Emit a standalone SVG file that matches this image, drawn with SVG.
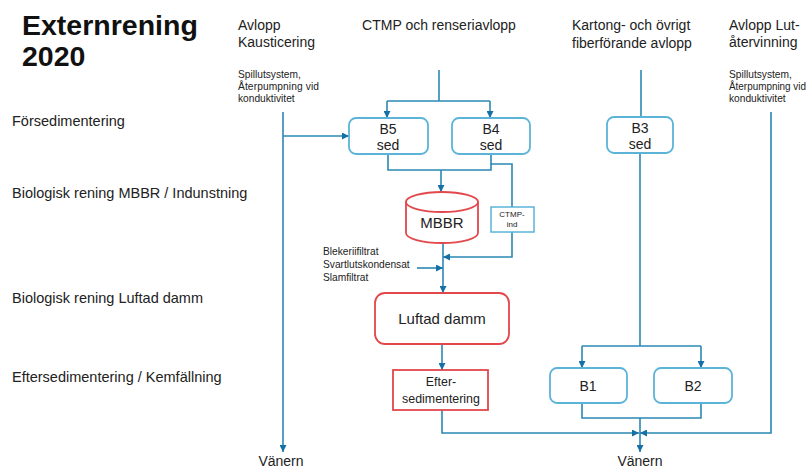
<svg xmlns="http://www.w3.org/2000/svg" width="808" height="469" viewBox="0 0 808 469">
  <style>
    text { font-family: "Liberation Sans", Arial, sans-serif; fill: #222; }
    .title { font-size: 28.5px; font-weight: bold; fill: #111; }
    .head { font-size: 14px; }
    .stage { font-size: 14.5px; }
    .note { font-size: 10.2px; }
    .box { font-size: 14px; text-anchor: middle; }
    .lbl { text-anchor: middle; }
    .flow { fill: none; stroke: #2a88b4; stroke-width: 1.6; }
    .blue { fill: #fff; stroke: #5bb4d8; stroke-width: 1.8; }
    .red { fill: #fff; stroke: #e2474c; stroke-width: 1.8; }
  </style>
  <defs>
    <marker id="arr" viewBox="0 0 10 10" refX="10" refY="5" markerWidth="7" markerHeight="7" orient="auto" markerUnits="userSpaceOnUse">
      <path d="M0,0 L10,5 L0,10 z" fill="#1570a6"/>
    </marker>
  </defs>
  <rect width="808" height="469" fill="#fff"/>

  <!-- headings -->
  <g id="title">
    <text class="title" x="22" y="35">Externrening</text>
    <text class="title" x="22" y="66">2020</text>
  </g>
  <g id="stages">
    <text class="stage" x="12" y="126">Försedimentering</text>
    <text class="stage" x="12" y="198">Biologisk rening MBBR / Indunstning</text>
    <text class="stage" x="12" y="303">Biologisk rening Luftad damm</text>
    <text class="stage" x="12" y="382">Eftersedimentering / Kemfällning</text>
  </g>
  <g id="sources">
    <text class="head" x="238" y="30">Avlopp</text>
    <text class="head" x="238" y="47">Kausticering</text>
    <text class="note" x="238" y="78">Spillutsystem,</text>
    <text class="note" x="238" y="90" textLength="81" lengthAdjust="spacing">Återpumpning vid</text>
    <text class="note" x="238" y="102">konduktivitet</text>
    <text class="head lbl" x="439" y="30">CTMP och renseriavlopp</text>
    <text class="head" x="572" y="30">Kartong- och övrigt</text>
    <text class="head" x="572" y="48">fiberförande avlopp</text>
    <text class="head" x="729" y="30">Avlopp Lut-</text>
    <text class="head" x="729" y="47">återvinning</text>
    <text class="note" x="729" y="78">Spillutsystem,</text>
    <text class="note" x="729" y="90" textLength="77" lengthAdjust="spacingAndGlyphs">Återpumpning vid</text>
    <text class="note" x="729" y="102">konduktivitet</text>
  </g>

  <!-- connectors -->
  <g id="connectors">
    <!-- left bypass -->
    <path class="flow" d="M283,112 V452" marker-end="url(#arr)"/>
    <path class="flow" d="M283,136 H349" marker-end="url(#arr)"/>
    <!-- CTMP split -->
    <path class="flow" d="M439,70 V101"/>
    <path class="flow" d="M387,101 H490"/>
    <path class="flow" d="M387,101 V118" marker-end="url(#arr)"/>
    <path class="flow" d="M490,101 V118" marker-end="url(#arr)"/>
    <!-- B5/B4 to MBBR -->
    <path class="flow" d="M388,154 V170 H491 V154"/>
    <path class="flow" d="M441,170 V192" marker-end="url(#arr)"/>
    <!-- CTMP-ind branch -->
    <path class="flow" d="M491,164 H512 V207"/>
    <path class="flow" d="M512,232 V257 H443" marker-end="url(#arr)"/>
    <!-- MBBR to Luftad damm -->
    <path class="flow" d="M443,243 V293" marker-end="url(#arr)"/>
    <path class="flow" d="M417,268 H443" marker-end="url(#arr)"/>
    <path class="flow" d="M442,344 V370" marker-end="url(#arr)"/>
    <!-- Efter to outlet -->
    <path class="flow" d="M442,410 V433 H639" marker-end="url(#arr)"/>
    <!-- B3 line -->
    <path class="flow" d="M641,70 V117"/>
    <path class="flow" d="M640,152 V346"/>
    <path class="flow" d="M582,346 H701"/>
    <path class="flow" d="M582,346 V368" marker-end="url(#arr)"/>
    <path class="flow" d="M701,346 V368" marker-end="url(#arr)"/>
    <path class="flow" d="M582,403 V418 H701 V403"/>
    <path class="flow" d="M640,418 V452" marker-end="url(#arr)"/>
    <!-- right bypass -->
    <path class="flow" d="M771,112 V433 H640" marker-end="url(#arr)"/>
  </g>

  <!-- nodes -->
  <g id="B5">
    <rect class="blue" x="349" y="118" width="79" height="36" rx="7"/>
    <text class="box" x="388" y="134">B5</text>
    <text class="box" x="388" y="150">sed</text>
  </g>
  <g id="B4">
    <rect class="blue" x="452" y="118" width="78" height="36" rx="7"/>
    <text class="box" x="491" y="134">B4</text>
    <text class="box" x="491" y="150">sed</text>
  </g>
  <g id="B3">
    <rect class="blue" x="607" y="117" width="66" height="36" rx="7"/>
    <text class="box" x="640" y="133">B3</text>
    <text class="box" x="640" y="149">sed</text>
  </g>
  <g id="MBBR">
    <path class="red" d="M406,202 A36,10 0 0 1 478,202 V233 A36,10 0 0 1 406,233 Z"/>
    <path class="red" d="M406,202 A36,10 0 0 0 478,202"/>
    <text class="box" x="442" y="228" style="font-size:15px">MBBR</text>
  </g>
  <g id="CTMP-ind">
    <rect x="491" y="207" width="43" height="25" fill="#fff" stroke="#5bb4d8" stroke-width="1.5"/>
    <text class="box" x="512" y="217" style="font-size:8px">CTMP-</text>
    <text class="box" x="512" y="227" style="font-size:8px">ind</text>
  </g>
  <g id="inflows">
    <text class="note" x="323" y="255">Blekeriifiltrat</text>
    <text class="note" x="323" y="268">Svartlutskondensat</text>
    <text class="note" x="323" y="281">Slamfiltrat</text>
  </g>
  <g id="luftad-damm">
    <rect class="red" x="375" y="293" width="134" height="51" rx="10"/>
    <text class="box" x="442" y="324" style="font-size:15px">Luftad damm</text>
  </g>
  <g id="eftersedimentering">
    <rect class="red" x="393" y="370" width="95" height="40"/>
    <text class="box" x="441" y="386" style="font-size:12.4px">Efter-</text>
    <text class="box" x="441" y="403" style="font-size:12.4px">sedimentering</text>
  </g>
  <g id="B1">
    <rect class="blue" x="550" y="368" width="77" height="35" rx="7"/>
    <text class="box" x="588" y="391">B1</text>
  </g>
  <g id="B2">
    <rect class="blue" x="654" y="368" width="78" height="35" rx="7"/>
    <text class="box" x="693" y="391">B2</text>
  </g>
  <g id="outlets">
    <text class="lbl" x="281" y="466" style="font-size:14px">Vänern</text>
    <text class="lbl" x="640" y="466" style="font-size:14px">Vänern</text>
  </g>
</svg>
